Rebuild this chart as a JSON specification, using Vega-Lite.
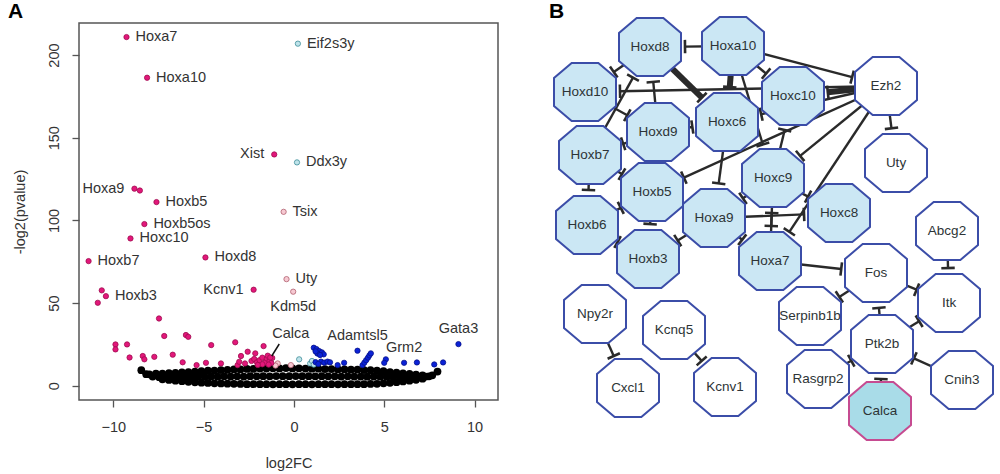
{
"$schema":"https://vega.github.io/schema/vega-lite/v6.json",
"padding":{"left":7,"top":0,"right":0,"bottom":0},
"bounds":"flush",
"spacing":43,
"config":{"font":"Liberation Sans","view":{"stroke":null}},
"resolve":{"scale":{"fill":"independent","stroke":"independent","strokeWidth":"independent"}},
"datasets":{
"genes":[
{"fc":-8.0,"lp":6.9,"g":"ns"},{"fc":-7.64,"lp":7.3,"g":"ns"},{"fc":-7.28,"lp":7.4,"g":"ns"},{"fc":-6.92,"lp":7.6,"g":"ns"},{"fc":-6.56,"lp":7.8,"g":"ns"},{"fc":-6.2,"lp":8.1,"g":"ns"},{"fc":-5.84,"lp":8.2,"g":"ns"},{"fc":-5.48,"lp":8.6,"g":"ns"},{"fc":-5.12,"lp":8.8,"g":"ns"},{"fc":-4.76,"lp":9.1,"g":"ns"},{"fc":-4.4,"lp":9.2,"g":"ns"},{"fc":-4.04,"lp":9.5,"g":"ns"},{"fc":-3.68,"lp":9.6,"g":"ns"},{"fc":-3.32,"lp":9.9,"g":"ns"},{"fc":-2.96,"lp":9.9,"g":"ns"},{"fc":-2.6,"lp":10.2,"g":"ns"},{"fc":-2.24,"lp":10.2,"g":"ns"},{"fc":-1.88,"lp":10.4,"g":"ns"},{"fc":-1.52,"lp":10.4,"g":"ns"},{"fc":-1.16,"lp":10.6,"g":"ns"},{"fc":-0.8,"lp":10.5,"g":"ns"},{"fc":-0.44,"lp":10.7,"g":"ns"},{"fc":-0.08,"lp":10.5,"g":"ns"},{"fc":0.28,"lp":10.6,"g":"ns"},{"fc":0.64,"lp":10.4,"g":"ns"},{"fc":1.0,"lp":10.3,"g":"ns"},{"fc":1.36,"lp":10.3,"g":"ns"},{"fc":1.72,"lp":10.1,"g":"ns"},{"fc":2.08,"lp":10.1,"g":"ns"},{"fc":2.44,"lp":9.9,"g":"ns"},{"fc":2.8,"lp":9.9,"g":"ns"},{"fc":3.16,"lp":9.7,"g":"ns"},{"fc":3.52,"lp":9.7,"g":"ns"},{"fc":3.88,"lp":9.5,"g":"ns"},{"fc":4.24,"lp":9.4,"g":"ns"},{"fc":4.6,"lp":9.1,"g":"ns"},{"fc":4.96,"lp":8.8,"g":"ns"},{"fc":5.32,"lp":8.3,"g":"ns"},{"fc":5.68,"lp":8.0,"g":"ns"},{"fc":6.04,"lp":7.5,"g":"ns"},{"fc":6.4,"lp":7.2,"g":"ns"},{"fc":6.76,"lp":6.7,"g":"ns"},{"fc":7.12,"lp":6.3,"g":"ns"},{"fc":7.48,"lp":5.7,"g":"ns"},
{"fc":-8.18,"lp":7.0,"g":"ns"},{"fc":-7.82,"lp":5.6,"g":"ns"},{"fc":-7.46,"lp":5.2,"g":"ns"},{"fc":-7.1,"lp":5.3,"g":"ns"},{"fc":-6.74,"lp":5.4,"g":"ns"},{"fc":-6.38,"lp":5.4,"g":"ns"},{"fc":-6.02,"lp":5.5,"g":"ns"},{"fc":-5.66,"lp":5.4,"g":"ns"},{"fc":-5.3,"lp":5.6,"g":"ns"},{"fc":-4.94,"lp":5.5,"g":"ns"},{"fc":-4.58,"lp":5.6,"g":"ns"},{"fc":-4.22,"lp":5.5,"g":"ns"},{"fc":-3.86,"lp":5.7,"g":"ns"},{"fc":-3.5,"lp":5.6,"g":"ns"},{"fc":-3.14,"lp":5.7,"g":"ns"},{"fc":-2.78,"lp":5.6,"g":"ns"},{"fc":-2.42,"lp":5.8,"g":"ns"},{"fc":-2.06,"lp":5.7,"g":"ns"},{"fc":-1.7,"lp":5.8,"g":"ns"},{"fc":-1.34,"lp":5.7,"g":"ns"},{"fc":-0.98,"lp":5.9,"g":"ns"},{"fc":-0.62,"lp":5.8,"g":"ns"},{"fc":-0.26,"lp":5.8,"g":"ns"},{"fc":0.1,"lp":5.9,"g":"ns"},{"fc":0.46,"lp":5.8,"g":"ns"},{"fc":0.82,"lp":5.8,"g":"ns"},{"fc":1.18,"lp":5.7,"g":"ns"},{"fc":1.54,"lp":5.8,"g":"ns"},{"fc":1.9,"lp":5.7,"g":"ns"},{"fc":2.26,"lp":5.7,"g":"ns"},{"fc":2.62,"lp":5.6,"g":"ns"},{"fc":2.98,"lp":5.7,"g":"ns"},{"fc":3.34,"lp":5.6,"g":"ns"},{"fc":3.7,"lp":5.6,"g":"ns"},{"fc":4.06,"lp":5.5,"g":"ns"},{"fc":4.42,"lp":5.6,"g":"ns"},{"fc":4.78,"lp":5.5,"g":"ns"},{"fc":5.14,"lp":5.4,"g":"ns"},{"fc":5.5,"lp":5.5,"g":"ns"},{"fc":5.86,"lp":5.3,"g":"ns"},{"fc":6.22,"lp":5.4,"g":"ns"},{"fc":6.58,"lp":5.3,"g":"ns"},{"fc":6.94,"lp":5.4,"g":"ns"},{"fc":7.3,"lp":5.6,"g":"ns"},{"fc":7.66,"lp":6.3,"g":"ns"},
{"fc":-7.28,"lp":3.9,"g":"ns"},{"fc":-6.92,"lp":3.5,"g":"ns"},{"fc":-6.56,"lp":3.1,"g":"ns"},{"fc":-6.2,"lp":2.8,"g":"ns"},{"fc":-5.84,"lp":2.4,"g":"ns"},{"fc":-5.48,"lp":2.1,"g":"ns"},{"fc":-5.12,"lp":1.9,"g":"ns"},{"fc":-4.76,"lp":1.7,"g":"ns"},{"fc":-4.4,"lp":1.5,"g":"ns"},{"fc":-4.04,"lp":1.4,"g":"ns"},{"fc":-3.68,"lp":1.3,"g":"ns"},{"fc":-3.32,"lp":1.2,"g":"ns"},{"fc":-2.96,"lp":1.1,"g":"ns"},{"fc":-2.6,"lp":1.0,"g":"ns"},{"fc":-2.24,"lp":1.0,"g":"ns"},{"fc":-1.88,"lp":1.0,"g":"ns"},{"fc":-1.52,"lp":1.0,"g":"ns"},{"fc":-1.16,"lp":0.9,"g":"ns"},{"fc":-0.8,"lp":1.0,"g":"ns"},{"fc":-0.44,"lp":1.0,"g":"ns"},{"fc":-0.08,"lp":0.9,"g":"ns"},{"fc":0.28,"lp":1.0,"g":"ns"},{"fc":0.64,"lp":1.0,"g":"ns"},{"fc":1.0,"lp":0.9,"g":"ns"},{"fc":1.36,"lp":1.0,"g":"ns"},{"fc":1.72,"lp":1.0,"g":"ns"},{"fc":2.08,"lp":1.0,"g":"ns"},{"fc":2.44,"lp":0.9,"g":"ns"},{"fc":2.8,"lp":1.0,"g":"ns"},{"fc":3.16,"lp":1.0,"g":"ns"},{"fc":3.52,"lp":1.0,"g":"ns"},{"fc":3.88,"lp":1.0,"g":"ns"},{"fc":4.24,"lp":1.1,"g":"ns"},{"fc":4.6,"lp":1.2,"g":"ns"},{"fc":4.96,"lp":1.5,"g":"ns"},{"fc":5.32,"lp":1.8,"g":"ns"},{"fc":5.68,"lp":2.2,"g":"ns"},{"fc":6.04,"lp":2.6,"g":"ns"},{"fc":6.4,"lp":3.1,"g":"ns"},{"fc":6.76,"lp":3.6,"g":"ns"},{"fc":7.12,"lp":4.3,"g":"ns"},
{"fc":-8.45,"lp":9.4,"g":"ns"},{"fc":7.95,"lp":8.6,"g":"ns"},
{"fc":-9.27,"lp":210.9,"g":"down","gene":"Hoxa7"},
{"fc":-8.13,"lp":186.3,"g":"down","gene":"Hoxa10"},
{"fc":-1.09,"lp":139.9,"g":"down","gene":"Xist"},
{"fc":-8.83,"lp":119.2,"g":"down","gene":"Hoxa9"},
{"fc":-8.53,"lp":118.1,"g":"down"},
{"fc":-7.61,"lp":111.1,"g":"down","gene":"Hoxb5"},
{"fc":-8.28,"lp":97.8,"g":"down","gene":"Hoxb5os"},
{"fc":-9.05,"lp":89.1,"g":"down","gene":"Hoxc10"},
{"fc":-11.37,"lp":75.4,"g":"down","gene":"Hoxb7"},
{"fc":-4.9,"lp":77.6,"g":"down","gene":"Hoxd8"},
{"fc":-2.23,"lp":58.1,"g":"down","gene":"Kcnv1"},
{"fc":-10.64,"lp":57.7,"g":"down"},
{"fc":-10.41,"lp":54.2,"g":"down","gene":"Hoxb3"},
{"fc":-10.86,"lp":50.2,"g":"down"},
{"fc":-7.47,"lp":40.7,"g":"down"},{"fc":-7.18,"lp":30.1,"g":"down"},{"fc":-5.98,"lp":30.7,"g":"down"},{"fc":-5.85,"lp":29.6,"g":"down"},{"fc":-9.88,"lp":25.0,"g":"down"},{"fc":-9.88,"lp":22.0,"g":"down"},{"fc":-9.24,"lp":25.0,"g":"down"},{"fc":-4.58,"lp":24.6,"g":"down"},{"fc":-3.25,"lp":26.3,"g":"down"},{"fc":-1.68,"lp":24.0,"g":"down"},{"fc":-9.1,"lp":17.1,"g":"down"},{"fc":-8.37,"lp":18.0,"g":"down"},{"fc":-8.28,"lp":16.0,"g":"down"},{"fc":-7.73,"lp":17.5,"g":"down"},{"fc":-6.71,"lp":18.8,"g":"down"},{"fc":-6.16,"lp":14.2,"g":"down"},{"fc":-5.39,"lp":12.5,"g":"down"},{"fc":-4.87,"lp":13.9,"g":"down"},{"fc":-4.04,"lp":13.5,"g":"down"},{"fc":-3.12,"lp":12.5,"g":"down"},{"fc":-3.03,"lp":14.5,"g":"down"},{"fc":-2.93,"lp":18.0,"g":"down"},{"fc":-2.56,"lp":20.6,"g":"down"},{"fc":-2.71,"lp":13.5,"g":"down"},{"fc":-2.14,"lp":19.6,"g":"down"},
{"fc":-0.9,"lp":13.5,"g":"down-weak"},{"fc":-0.17,"lp":12.5,"g":"down-weak"},{"fc":-1.02,"lp":12.2,"g":"down-weak"},
{"fc":-2.35,"lp":15.0,"g":"down"},{"fc":-2.2,"lp":16.2,"g":"down"},{"fc":-2.05,"lp":14.2,"g":"down"},{"fc":-1.9,"lp":15.5,"g":"down"},{"fc":-1.75,"lp":17.0,"g":"down"},{"fc":-1.6,"lp":14.0,"g":"down"},{"fc":-1.5,"lp":16.5,"g":"down"},{"fc":-1.45,"lp":18.2,"g":"down"},{"fc":-1.35,"lp":15.0,"g":"down"},{"fc":-1.25,"lp":13.8,"g":"down"},{"fc":-1.2,"lp":16.8,"g":"down"},{"fc":-1.4,"lp":12.8,"g":"down"},{"fc":-1.75,"lp":13.0,"g":"down"},{"fc":-2.0,"lp":12.6,"g":"down"},
{"fc":-1.31,"lp":17.1,"g":"down","gene":"Calca"},
{"fc":-0.57,"lp":105.2,"g":"down-weak","gene":"Tsix"},
{"fc":-0.41,"lp":64.5,"g":"down-weak","gene":"Uty"},
{"fc":-0.04,"lp":56.9,"g":"down-weak","gene":"Kdm5d"},
{"fc":0.22,"lp":206.9,"g":"up-weak","gene":"Eif2s3y"},
{"fc":0.17,"lp":135.1,"g":"up-weak","gene":"Ddx3y"},
{"fc":0.29,"lp":16.0,"g":"up-weak"},{"fc":0.9,"lp":13.5,"g":"up-weak"},{"fc":1.0,"lp":15.0,"g":"up-weak"},{"fc":1.1,"lp":12.8,"g":"up-weak"},
{"fc":1.1,"lp":23.0,"g":"up"},{"fc":1.25,"lp":22.2,"g":"up"},{"fc":1.4,"lp":21.0,"g":"up"},{"fc":1.55,"lp":20.2,"g":"up"},{"fc":1.65,"lp":19.0,"g":"up"},{"fc":1.3,"lp":19.5,"g":"up"},{"fc":1.45,"lp":18.6,"g":"up"},{"fc":1.2,"lp":20.8,"g":"up"},
{"fc":1.2,"lp":14.3,"g":"up"},{"fc":1.5,"lp":14.6,"g":"up"},{"fc":1.68,"lp":14.0,"g":"up"},{"fc":1.86,"lp":14.6,"g":"up"},{"fc":2.0,"lp":14.2,"g":"up"},{"fc":1.35,"lp":13.2,"g":"up"},
{"fc":2.42,"lp":12.5,"g":"up"},{"fc":2.78,"lp":13.9,"g":"up"},
{"fc":3.8,"lp":12.5,"g":"up"},{"fc":3.9,"lp":14.0,"g":"up"},{"fc":4.0,"lp":15.5,"g":"up"},{"fc":4.1,"lp":17.0,"g":"up"},{"fc":4.18,"lp":18.4,"g":"up"},{"fc":4.26,"lp":19.6,"g":"up"},
{"fc":5.09,"lp":16.0,"g":"up"},{"fc":5.0,"lp":13.9,"g":"up"},{"fc":6.81,"lp":14.1,"g":"up"},{"fc":7.77,"lp":12.9,"g":"up"},{"fc":8.26,"lp":14.1,"g":"up"},
{"fc":3.52,"lp":21.2,"g":"up","gene":"Adamtsl5"},
{"fc":6.1,"lp":13.9,"g":"up","gene":"Grm2"},
{"fc":9.11,"lp":25.2,"g":"up","gene":"Gata3"}
],
"nodes":[
{"name":"Hoxd8","x":109,"y":427,"grp":"Hox"},
{"name":"Hoxa10","x":192,"y":428,"grp":"Hox"},
{"name":"Hoxd10","x":44,"y":382,"grp":"Hox"},
{"name":"Hoxc10","x":252,"y":378,"grp":"Hox"},
{"name":"Ezh2","x":345,"y":388,"grp":"other"},
{"name":"Hoxc6","x":186,"y":352,"grp":"Hox"},
{"name":"Hoxd9","x":117,"y":342,"grp":"Hox"},
{"name":"Hoxb7","x":49,"y":319,"grp":"Hox"},
{"name":"Uty","x":355,"y":311,"grp":"other"},
{"name":"Hoxc9","x":232,"y":296,"grp":"Hox"},
{"name":"Hoxb5","x":111,"y":282,"grp":"Hox"},
{"name":"Hoxa9","x":173,"y":256,"grp":"Hox"},
{"name":"Hoxc8","x":298,"y":261,"grp":"Hox"},
{"name":"Hoxb6","x":46,"y":249,"grp":"Hox"},
{"name":"Abcg2","x":406,"y":243,"grp":"other"},
{"name":"Hoxb3","x":107,"y":215,"grp":"Hox"},
{"name":"Hoxa7","x":229,"y":213,"grp":"Hox"},
{"name":"Fos","x":335,"y":201,"grp":"other"},
{"name":"Itk","x":408,"y":171,"grp":"other"},
{"name":"Serpinb1b","x":269,"y":158,"grp":"other"},
{"name":"Npy2r","x":54,"y":160,"grp":"other"},
{"name":"Kcnq5","x":133,"y":144,"grp":"other"},
{"name":"Ptk2b","x":341,"y":130,"grp":"other"},
{"name":"Cxcl1","x":87,"y":86,"grp":"other"},
{"name":"Kcnv1","x":184,"y":87,"grp":"other"},
{"name":"Rasgrp2","x":277,"y":95,"grp":"other"},
{"name":"Cnih3","x":421,"y":94,"grp":"other"},
{"name":"Calca","x":339,"y":63,"grp":"query"}
],
"edges":[
{"from":"Hoxa10","to":"Hoxd8","w":1},
{"from":"Hoxd8","to":"Hoxd10","w":1},
{"from":"Hoxd9","to":"Hoxd8","w":1},
{"from":"Hoxd8","to":"Hoxc6","w":3},
{"from":"Ezh2","to":"Hoxd10","w":1},
{"from":"Hoxd10","to":"Hoxd9","w":1},
{"from":"Hoxb7","to":"Hoxd8","w":1},
{"from":"Hoxa10","to":"Hoxc6","w":3},
{"from":"Hoxa10","to":"Hoxc10","w":1},
{"from":"Hoxa10","to":"Hoxc9","w":1},
{"from":"Hoxd9","to":"Hoxc6","w":1},
{"from":"Hoxd9","to":"Hoxb7","w":1},
{"from":"Hoxb7","to":"Hoxb6","w":1},
{"from":"Hoxb7","to":"Hoxb5","w":1},
{"from":"Ezh2","to":"Hoxb5","w":1},
{"from":"Hoxc6","to":"Hoxa9","w":1},
{"from":"Hoxb6","to":"Hoxb5","w":1},
{"from":"Hoxb5","to":"Hoxb3","w":1},
{"from":"Hoxb3","to":"Hoxb6","w":1},
{"from":"Hoxa9","to":"Hoxb3","w":1},
{"from":"Hoxa9","to":"Hoxc8","w":1},
{"from":"Hoxc9","to":"Hoxa9","w":1},
{"from":"Hoxc9","to":"Hoxa7","w":1},
{"from":"Hoxa7","to":"Hoxc9","w":1},
{"from":"Hoxa9","to":"Hoxa7","w":1},
{"from":"Ezh2","to":"Hoxa7","w":1},
{"from":"Hoxc9","to":"Hoxc8","w":1},
{"from":"Ezh2","to":"Hoxc9","w":1},
{"from":"Ezh2","to":"Hoxc6","w":1},
{"from":"Hoxc9","to":"Hoxc10","w":1},
{"from":"Ezh2","to":"Hoxc10","w":3},
{"from":"Ezh2","to":"Uty","w":1},
{"from":"Hoxa10","to":"Ezh2","w":1},
{"from":"Hoxa7","to":"Fos","w":1},
{"from":"Fos","to":"Serpinb1b","w":1},
{"from":"Fos","to":"Itk","w":1},
{"from":"Abcg2","to":"Itk","w":1},
{"from":"Ptk2b","to":"Fos","w":1},
{"from":"Ptk2b","to":"Itk","w":1},
{"from":"Rasgrp2","to":"Ptk2b","w":1},
{"from":"Cnih3","to":"Ptk2b","w":1},
{"from":"Calca","to":"Ptk2b","w":1},
{"from":"Npy2r","to":"Cxcl1","w":1},
{"from":"Kcnq5","to":"Kcnv1","w":1}
]
},
"hconcat":[
{
"width":419,"height":377,
"view":{"stroke":"#555555","strokeWidth":1.5},
"title":{"text":"A","anchor":"start","frame":"group","dx":-71,"offset":-16,"baseline":"alphabetic","fontSize":21,"fontWeight":"bold","color":"#000000"},
"data":{"name":"genes"},
"encoding":{
"x":{"field":"fc","type":"quantitative","scale":{"domain":[-11.9,11.3],"nice":false,"zero":false},
"axis":{"title":"log2FC","values":[-10,-5,0,5,10],"grid":false,"domain":false,"tickSize":7,"tickColor":"#555555","tickWidth":1.3,"labelFontSize":14.5,"labelColor":"#333333","labelPadding":13,"labelFlush":false,"labelOverlap":false,"titleFontSize":14.5,"titleFontWeight":"normal","titleColor":"#333333","titlePadding":23}},
"y":{"field":"lp","type":"quantitative","scale":{"domain":[-8.6,219.4],"nice":false,"zero":false},
"axis":{"title":"-log2(pvalue)","values":[0,50,100,150,200],"grid":false,"domain":false,"tickSize":7,"tickColor":"#555555","tickWidth":1.3,"labelFontSize":14.5,"labelColor":"#333333","labelAngle":-90,"labelAlign":"center","labelBaseline":"bottom","labelPadding":11,"labelFlush":false,"labelOverlap":false,"titleFontSize":14.5,"titleFontWeight":"normal","titleColor":"#333333","titlePadding":19}}
},
"layer":[
{"transform":[{"filter":"datum.g === 'ns'"}],"mark":{"type":"circle","size":60,"color":"#000000","opacity":1}},
{"transform":[{"filter":"datum.g !== 'ns'"}],"mark":{"type":"point","shape":"circle","filled":true,"size":28,"strokeWidth":0.8,"opacity":1},
"encoding":{
"fill":{"field":"g","type":"nominal","scale":{"domain":["down","up","down-weak","up-weak"],"range":["#E2177A","#0B22D6","#F6C9D2","#BFE3EA"]},"legend":null},
"stroke":{"field":"g","type":"nominal","scale":{"domain":["down","up","down-weak","up-weak"],"range":["#9E0D4F","#06128A","#B0606F","#3F8E99"]},"legend":null}}},
{"transform":[{"filter":{"field":"gene","oneOf":["Hoxa7","Hoxa10","Eif2s3y","Ddx3y","Hoxb5","Tsix","Hoxb5os","Hoxc10","Hoxb7","Hoxd8","Uty","Hoxb3"]}}],
"mark":{"type":"text","align":"left","baseline":"middle","dx":9,"fontSize":14.5,"color":"#333333"},"encoding":{"text":{"field":"gene"}}},
{"transform":[{"filter":{"field":"gene","oneOf":["Xist","Hoxa9","Kcnv1"]}}],
"mark":{"type":"text","align":"right","baseline":"middle","dx":-10,"fontSize":14.5,"color":"#333333"},"encoding":{"text":{"field":"gene"}}},
{"transform":[{"filter":{"field":"gene","oneOf":["Kdm5d"]}}],
"mark":{"type":"text","align":"center","baseline":"middle","dy":15,"fontSize":14.5,"color":"#333333"},"encoding":{"text":{"field":"gene"}}},
{"transform":[{"filter":{"field":"gene","oneOf":["Adamtsl5","Grm2","Gata3"]}}],
"mark":{"type":"text","align":"center","baseline":"middle","dy":-15,"fontSize":14.5,"color":"#333333"},"encoding":{"text":{"field":"gene"}}},
{"transform":[{"filter":{"field":"gene","oneOf":["Calca"]}}],
"mark":{"type":"text","align":"left","baseline":"middle","dx":2,"dy":-24,"fontSize":14.5,"color":"#333333"},"encoding":{"text":{"field":"gene"}}},
{"transform":[{"filter":{"field":"gene","oneOf":["Calca"]}}],
"mark":{"type":"rule","color":"#111111","strokeWidth":1.5,"xOffset":1.5,"yOffset":-1.5,"x2Offset":9,"y2Offset":-13.5},
"encoding":{"x2":{"field":"fc"},"y2":{"field":"lp"}}}
]
},
{
"width":460,"height":377,
"view":{"stroke":null},
"title":{"text":"B","anchor":"start","frame":"group","dx":8,"offset":-26,"baseline":"alphabetic","fontSize":21,"fontWeight":"bold","color":"#000000"},
"layer":[
{"data":{"name":"edges"},
"transform":[
{"lookup":"from","from":{"data":{"name":"nodes"},"key":"name","fields":["x","y"]},"as":["sx","sy"]},
{"lookup":"to","from":{"data":{"name":"nodes"},"key":"name","fields":["x","y"]},"as":["tx","ty"]},
{"calculate":"sqrt(pow(datum.tx-datum.sx,2)+pow(datum.ty-datum.sy,2))","as":"len"},
{"calculate":"datum.tx-35*(datum.tx-datum.sx)/datum.len","as":"bx"},
{"calculate":"datum.ty-35*(datum.ty-datum.sy)/datum.len","as":"by"}
],
"mark":{"type":"rule","color":"#2a2a2a"},
"encoding":{
"x":{"field":"sx","type":"quantitative","scale":{"domain":[0,460],"nice":false,"zero":false},"axis":null},
"y":{"field":"sy","type":"quantitative","scale":{"domain":[74,451],"nice":false,"zero":false},"axis":null},
"x2":{"field":"bx"},"y2":{"field":"by"},
"strokeWidth":{"field":"w","type":"quantitative","scale":{"domain":[1,3],"range":[2.4,6]},"legend":null}}},
{"data":{"name":"edges"},
"transform":[
{"lookup":"from","from":{"data":{"name":"nodes"},"key":"name","fields":["x","y"]},"as":["sx","sy"]},
{"lookup":"to","from":{"data":{"name":"nodes"},"key":"name","fields":["x","y"]},"as":["tx","ty"]},
{"calculate":"sqrt(pow(datum.tx-datum.sx,2)+pow(datum.ty-datum.sy,2))","as":"len"},
{"calculate":"datum.tx-35*(datum.tx-datum.sx)/datum.len","as":"bx"},
{"calculate":"datum.ty-35*(datum.ty-datum.sy)/datum.len","as":"by"},
{"calculate":"atan2(datum.sy-datum.ty,datum.tx-datum.sx)*180/PI+90","as":"ang"}
],
"mark":{"type":"point","shape":"stroke","size":180,"strokeWidth":2.6,"color":"#2a2a2a","filled":false,"opacity":1},
"encoding":{
"x":{"field":"bx","type":"quantitative","scale":{"domain":[0,460],"nice":false,"zero":false},"axis":null},
"y":{"field":"by","type":"quantitative","scale":{"domain":[74,451],"nice":false,"zero":false},"axis":null},
"angle":{"field":"ang","type":"quantitative","scale":null}}},
{"data":{"name":"nodes"},
"mark":{"type":"point","shape":"M-0.43,-0.935L0.43,-0.935L1,-0.45L1,0.45L0.43,0.935L-0.43,0.935L-1,0.45L-1,-0.45Z","size":3844,"filled":true,"strokeWidth":2,"opacity":1},
"encoding":{
"x":{"field":"x","type":"quantitative","scale":{"domain":[0,460],"nice":false,"zero":false},"axis":null},
"y":{"field":"y","type":"quantitative","scale":{"domain":[74,451],"nice":false,"zero":false},"axis":null},
"fill":{"field":"grp","type":"nominal","scale":{"domain":["Hox","other","query"],"range":["#CBE7F4","#FFFFFF","#A9DCE8"]},"legend":null},
"stroke":{"field":"grp","type":"nominal","scale":{"domain":["Hox","other","query"],"range":["#3B4DA8","#3B4DA8","#C64B91"]},"legend":null}}},
{"data":{"name":"nodes"},
"mark":{"type":"text","fontSize":13.5,"color":"#2d3436","align":"center","baseline":"middle"},
"encoding":{
"x":{"field":"x","type":"quantitative","scale":{"domain":[0,460],"nice":false,"zero":false},"axis":null},
"y":{"field":"y","type":"quantitative","scale":{"domain":[74,451],"nice":false,"zero":false},"axis":null},
"text":{"field":"name"}}}
]
}
]
}
